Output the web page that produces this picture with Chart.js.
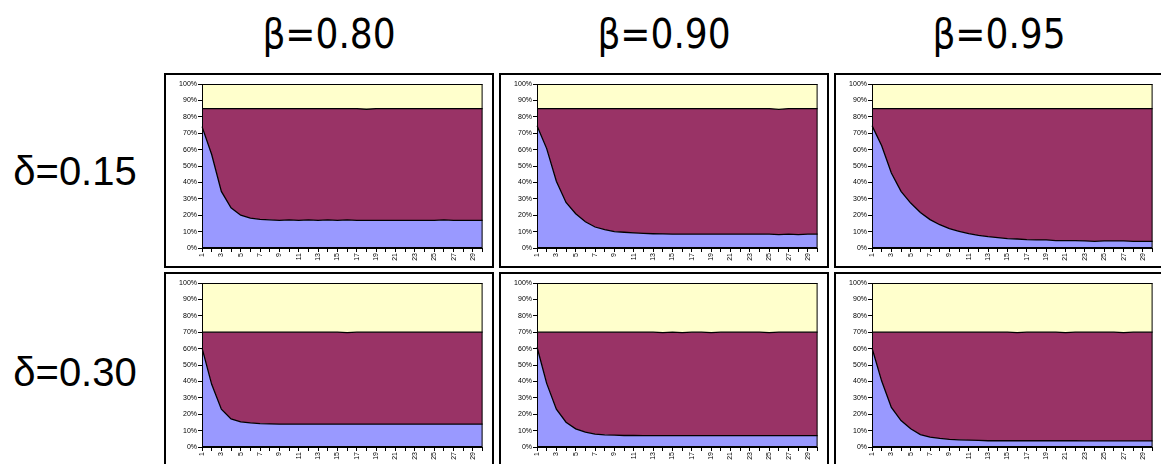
<!DOCTYPE html>
<html>
<head>
<meta charset="utf-8">
<title>Areas</title>
<script src="https://cdn.jsdelivr.net/npm/chart.js@4.4.0/dist/chart.umd.min.js"></script>
<style>
  html, body { margin: 0; padding: 0; background: #fff; }
  body { width: 1161px; height: 464px; overflow: hidden; position: relative; }
  .hdr { position: absolute; top: 14px; width: 330px; text-align: center;
         font-family: "DejaVu Sans Condensed", "DejaVu Sans", sans-serif; font-size: 40px; line-height: 40px; color: #000; }
  .rowlbl { position: absolute; left: 0; width: 150px; text-align: center;
            font-family: "Liberation Sans", Arial, sans-serif; font-size: 40px; line-height: 40px; color: #000; }
  .box { position: absolute; width: 330px; height: 195px; box-sizing: border-box;
         border: 2px solid #000; background: #fff; }
  .box canvas { display: block; }
</style>
</head>
<body>

<div class="hdr" style="left:164px">β=0.80</div>
<div class="hdr" style="left:499px">β=0.90</div>
<div class="hdr" style="left:834px">β=0.95</div>
<div class="rowlbl" style="top:151px">δ=0.15</div>
<div class="rowlbl" style="top:352px">δ=0.30</div>

<script>
// ------- Datos (% de cada banda) -------
const categories = ['1','2','3','4','5','6','7','8','9','10','11','12','13','14','15',
                    '16','17','18','19','20','21','22','23','24','25','26','27','28','29','30'];
const yTickSuffix = '%';

// beta 0.80, delta 0.15
const b80d15Lower  = [74, 57, 34.5, 24.5, 20, 18.2, 17.5, 17.2, 16.9, 17.1, 16.9, 17.1, 16.9, 17.1, 16.9,
                      17.1, 16.8, 16.8, 16.8, 16.8, 16.8, 16.8, 16.8, 16.8, 16.8, 17.1, 16.8, 16.8, 16.8, 16.8];
const b80d15Middle = [11, 28, 50.5, 60.5, 65, 66.8, 67.5, 67.8, 68.1, 67.9, 68.1, 67.9, 68.1, 67.9, 68.1,
                      67.9, 68.2, 67.8, 68.2, 68.2, 68.2, 68.2, 68.2, 68.2, 68.2, 67.9, 68.2, 68.2, 68.2, 68.2];
const b80d15Upper  = [15, 15, 15, 15, 15, 15, 15, 15, 15, 15, 15, 15, 15, 15, 15,
                      15, 15, 15.4, 15, 15, 15, 15, 15, 15, 15, 15, 15, 15, 15, 15];

// beta 0.90, delta 0.15
const b90d15Lower  = [74.6, 60.6, 40.7, 27.8, 20.9, 16, 12.8, 11.2, 10, 9.6, 9.2, 8.9, 8.7, 8.6, 8.5,
                      8.5, 8.5, 8.5, 8.5, 8.5, 8.5, 8.5, 8.5, 8.5, 8.4, 8.2, 8.4, 8.2, 8.4, 8.4];
const b90d15Middle = [10.4, 24.4, 44.3, 57.2, 64.1, 69, 72.2, 73.8, 75, 75.4, 75.8, 76.1, 76.3, 76.4, 76.5,
                      76.5, 76.5, 76.5, 76.5, 76.5, 76.5, 76.5, 76.5, 76.5, 76.6, 76.3, 76.6, 76.8, 76.6, 76.6];
const b90d15Upper  = [15, 15, 15, 15, 15, 15, 15, 15, 15, 15, 15, 15, 15, 15, 15,
                      15, 15, 15, 15, 15, 15, 15, 15, 15, 15, 15.5, 15, 15, 15, 15];

// beta 0.95, delta 0.15
const b95d15Lower  = [74.6, 62.4, 45.7, 34.5, 27.4, 21.7, 17.3, 14.2, 11.8, 10.2, 8.7, 7.7, 6.9, 6.3, 5.7,
                      5.5, 5.1, 4.9, 4.9, 4.5, 4.5, 4.5, 4.3, 4.1, 4.3, 4.3, 4.3, 4.1, 4.1, 4.1];
const b95d15Middle = [10.4, 22.6, 39.3, 50.5, 57.6, 63.3, 67.7, 70.8, 73.2, 74.8, 76.3, 77.3, 78.1, 78.7, 79.3,
                      79.5, 79.9, 80.1, 80.1, 80.5, 80.5, 80.5, 80.7, 80.9, 80.7, 80.7, 80.7, 80.9, 80.9, 80.9];
const b95d15Upper  = [15, 15, 15, 15, 15, 15, 15, 15, 15, 15, 15, 15, 15, 15, 15,
                      15, 15, 15, 15, 15, 15, 15, 15, 15, 15, 15, 15, 15, 15, 15];

// beta 0.80, delta 0.30
const b80d30Lower  = [60.4, 38.2, 23.1, 17.1, 15.3, 14.7, 14.3, 14.1, 14, 14, 14, 14, 14, 14, 14,
                      14, 14, 14, 14, 14, 14, 14, 14, 14, 14, 14, 14, 14, 14, 14];
const b80d30Middle = [9.6, 31.8, 46.9, 52.9, 54.7, 55.3, 55.7, 55.9, 56, 56, 56, 56, 56, 56, 56,
                      55.8, 56, 56, 56, 56, 56, 56, 56, 56, 56, 56, 56, 56, 56, 56];
const b80d30Upper  = [30, 30, 30, 30, 30, 30, 30, 30, 30, 30, 30, 30, 30, 30, 30,
                      30.2, 30, 30, 30, 30, 30, 30, 30, 30, 30, 30, 30, 30, 30, 30];

// beta 0.90, delta 0.30
const b90d30Lower  = [61, 38.8, 23.1, 15.1, 11.1, 9.1, 7.8, 7.4, 7.2, 7, 7, 6.9, 6.9, 6.9, 6.9,
                      6.9, 6.9, 6.9, 6.9, 6.9, 6.9, 6.9, 6.9, 6.9, 6.9, 6.9, 6.9, 6.9, 6.9, 6.9];
const b90d30Middle = [9, 31.2, 46.9, 54.9, 58.9, 60.9, 62.2, 62.6, 62.8, 63, 63, 63.1, 63.1, 62.9, 63.1,
                      62.9, 63.1, 63.1, 62.9, 63.1, 63.1, 63.1, 63.1, 63.1, 62.9, 63.1, 63.1, 63.1, 63.1, 63.1];
const b90d30Upper  = [30, 30, 30, 30, 30, 30, 30, 30, 30, 30, 30, 30, 30, 30.2, 30,
                      30.2, 30, 30, 30.2, 30, 30, 30, 30, 30, 30.2, 30, 30, 30, 30, 30];

// beta 0.95, delta 0.30
const b95d30Lower  = [60.4, 40.2, 24.1, 16.1, 11.1, 7.6, 6, 5.2, 4.6, 4.4, 4.2, 4, 3.8, 3.8, 3.8,
                      3.8, 3.8, 3.8, 3.8, 3.8, 3.8, 3.8, 3.7, 3.7, 3.7, 3.7, 3.7, 3.7, 3.7, 3.7];
const b95d30Middle = [9.6, 29.8, 45.9, 53.9, 58.9, 62.4, 64, 64.8, 65.4, 65.6, 65.8, 66, 66.2, 66.2, 66.2,
                      66, 66.2, 66.2, 66.2, 66.2, 66, 66.2, 66.3, 66.3, 66.3, 66.3, 66.1, 66.3, 66.3, 66.3];
const b95d30Upper  = [30, 30, 30, 30, 30, 30, 30, 30, 30, 30, 30, 30, 30, 30, 30,
                      30.2, 30, 30, 30, 30, 30.2, 30, 30, 30, 30, 30, 30.2, 30, 30, 30];

(function () {
    // ------- Helpers -------
    const COLORS = { lower: '#9999FF', middle: '#993366', upper: '#FFFFCC' };

    // marco negro alrededor del área de trazado
    const framePlugin = {
        id: 'frame',
        afterDatasetsDraw(chart) {
            const a = chart.chartArea, c = chart.ctx;
            c.save();
            c.strokeStyle = '#000';
            c.lineWidth = 1;
            c.strokeRect(a.left + 0.5, a.top + 0.5, a.right - a.left - 1, a.bottom - a.top - 1);
            c.restore();
        }
    };

    function band(data, color, fill) {
        return {
            data, fill,
            backgroundColor: color,
            borderColor: '#000',
            borderWidth: 1.3,
            pointRadius: 0,
            tension: 0
        };
    }

    function makeArea(left, top, lower, middle, upper) {
        const box = document.createElement('div');
        box.className = 'box';
        box.style.left = left + 'px';
        box.style.top = top + 'px';
        const canvas = document.createElement('canvas');
        canvas.width = 326;
        canvas.height = 191;
        box.appendChild(canvas);
        document.body.appendChild(box);

        return new Chart(canvas.getContext('2d'), {
            type: 'line',
            data: {
                labels: categories,
                datasets: [
                    band(lower, COLORS.lower, 'origin'),
                    band(middle, COLORS.middle, '-1'),
                    band(upper, COLORS.upper, '-1')
                ]
            },
            options: {
                responsive: false,
                animation: false,
                layout: { padding: { left: 0, top: 9, right: 9, bottom: 0 } },
                plugins: { legend: { display: false }, tooltip: { enabled: false } },
                scales: {
                    x: {
                        stacked: true,
                        offset: false,
                        grid: { drawOnChartArea: false, color: '#000', tickLength: 4 },
                        border: { display: true, color: '#000', width: 1 },
                        ticks: {
                            autoSkip: false, minRotation: 90, maxRotation: 90, padding: 1,
                            color: '#000', font: { size: 7 },
                            callback: function (v, i) { return i % 2 === 0 ? this.getLabelForValue(v) : ''; }
                        },
                        afterFit: (s) => { s.height = 18; }
                    },
                    y: {
                        stacked: true,
                        min: 0, max: 100,
                        grid: { drawOnChartArea: false, color: '#000', tickLength: 4 },
                        border: { display: true, color: '#000', width: 1 },
                        ticks: {
                            stepSize: 10, padding: 1, color: '#000', font: { size: 7 },
                            callback: (v) => v + yTickSuffix
                        },
                        afterFit: (s) => { s.width = 36; }
                    }
                }
            },
            plugins: [framePlugin]
        });
    }

    function init() {
        Chart.defaults.font.family = '"Liberation Sans", Arial, sans-serif';

        // fila delta = 0.15
        makeArea(164, 73, b80d15Lower, b80d15Middle, b80d15Upper);
        makeArea(499, 73, b90d15Lower, b90d15Middle, b90d15Upper);
        makeArea(834, 73, b95d15Lower, b95d15Middle, b95d15Upper);
        // fila delta = 0.30
        makeArea(164, 272, b80d30Lower, b80d30Middle, b80d30Upper);
        makeArea(499, 272, b90d30Lower, b90d30Middle, b90d30Upper);
        makeArea(834, 272, b95d30Lower, b95d30Middle, b95d30Upper);
    }

    init();
})();
</script>
</body>
</html>
